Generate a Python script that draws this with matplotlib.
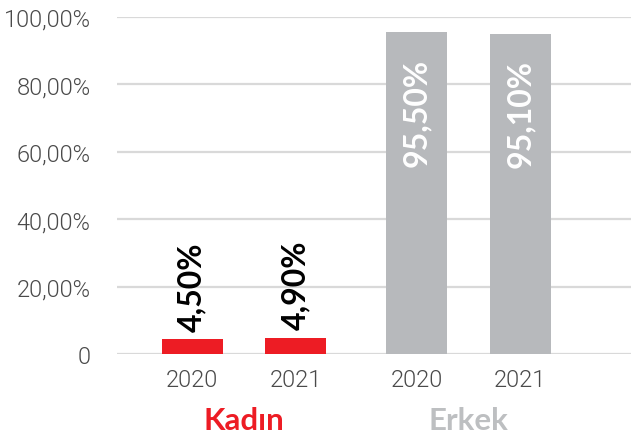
import matplotlib.pyplot as plt
import matplotlib.transforms as mtransforms

# Data
groups = ["Kadın", "Erkek"]
years = ["2020", "2021", "2020", "2021"]
values = [4.5, 4.9, 95.5, 95.1]
value_labels = ["4,50%", "4,90%", "95,50%", "95,10%"]
y_ticks = [0, 20, 40, 60, 80, 100]
y_tick_labels = ["0", "20,00%", "40,00%", "60,00%", "80,00%", "100,00%"]

red = "#ED1C24"
grey = "#B7B9BC"
colors = [red, red, grey, grey]
group_colors = [red, "#BDBFC1"]
positions = [0, 1, 2.17, 3.17]

plt.rcParams['font.family'] = ['Lato', 'DejaVu Sans']

fig = plt.figure(figsize=(6.31, 4.39), dpi=100)
ax = fig.add_axes([0.1854, 0.1913, 0.8146, 0.7677])

ax.bar(positions, values, width=0.59, color=colors, zorder=3)

ax.set_ylim(0, 100)
ax.set_xlim(-0.725, 4.24)
ax.set_yticks(y_ticks)
ax.set_yticklabels(y_tick_labels)
ax.set_xticks(positions)
ax.set_xticklabels(years)
ax.grid(axis='y', color="#D9D9D9", linewidth=1.6, zorder=0)
ax.tick_params(length=0, labelsize=17, labelcolor="#4A4A4A")
ax.tick_params(axis='y', pad=19)
ax.tick_params(axis='x', pad=10)
for lab in ax.get_xticklabels() + ax.get_yticklabels():
    lab.set_family(['Roboto', 'DejaVu Sans'])
    lab.set_fontweight(300)
for s in ax.spines.values():
    s.set_visible(False)

# value labels
for x, v, lab in zip(positions, values, value_labels):
    if v < 50:
        ax.text(x, v + 2.4, lab, rotation=90, ha='center', va='bottom',
                fontsize=23, fontweight='bold', color="black", zorder=4)
    else:
        ax.text(x, v - 7.7, lab, rotation=90, ha='center', va='top',
                fontsize=23, fontweight='bold', color="white", zorder=4)

# group labels
trans = mtransforms.blended_transform_factory(ax.transData, ax.transAxes)
for i, g in enumerate(groups):
    cx = (positions[2 * i] + positions[2 * i + 1]) / 2
    ax.text(cx, -0.196, g, transform=trans, ha='center', va='center',
            fontsize=22.5, fontweight='bold', color=group_colors[i])

fig.savefig("out.png", dpi=100)
